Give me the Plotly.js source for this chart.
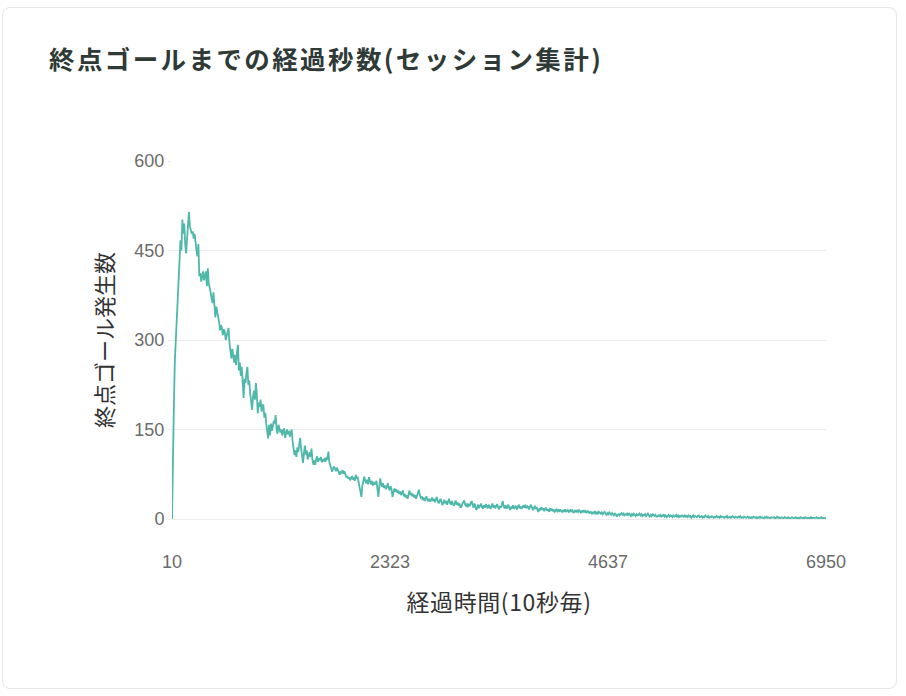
<!DOCTYPE html>
<html>
<head>
<meta charset="utf-8">
<script src="https://cdn.plot.ly/plotly-3.0.1.min.js"></script>
<style>
  html, body { margin:0; padding:0; background:#ffffff; width:906px; height:696px; overflow:hidden; }
  #card { position:absolute; left:2px; top:7px; width:895px; height:682px; border:1px solid #e6e6e6; border-radius:8px; box-sizing:border-box; }
  #chart { position:absolute; left:0; top:0; width:906px; height:696px; }
</style>
</head>
<body>
<div id="card"></div>
<div id="chart"></div>
<script>
// Elapsed time bins (seconds, every 10 s) from 10 to 6950
const startSec = 10;
const stepSec = 10;
// Count of end-goal events per 10-second bin
const goalCounts = [
  0,120,190,265,300,333,365,389,420,467,450,502,478,495,460,445,470,500,515,490,
  485,478,482,470,478,455,450,440,461,407,412,398,405,415,400,410,415,390,420,395,
  389,380,370,362,380,350,338,356,348,336,330,316,325,320,308,318,314,300,306,312,
  320,295,280,269,285,270,262,275,258,280,292,249,262,240,255,230,203,235,228,245,
  255,225,232,210,195,183,205,215,200,228,210,177,195,188,200,180,192,190,170,178,
  160,150,135,158,140,160,148,155,165,160,174,150,143,158,152,145,150,140,148,152,
  136,145,150,142,148,138,146,150,130,118,107,115,104,120,112,125,136,118,108,94,
  110,123,108,115,100,106,112,104,118,100,91,98,91,100,105,96,102,98,104,95,
  100,97,102,96,104,100,113,95,88,82,79,85,88,84,80,86,82,76,74,80,
  78,82,76,80,74,70,72,68,70,65,68,72,66,70,64,74,68,71,62,55,
  48,37,56,62,71,64,60,66,58,70,62,58,64,56,62,58,60,64,50,37,
  55,68,58,54,60,52,56,50,54,60,52,48,55,50,37,45,51,46,50,44,
  48,42,46,40,44,48,38,42,36,40,34,42,48,40,44,38,42,36,40,34,
  38,42,49,40,36,38,32,36,30,34,38,32,30,34,29,32,36,30,34,28,
  32,37,30,26,30,34,28,23,28,32,26,30,24,28,34,27,24,30,26,22,
  26,31,24,28,22,26,20,20,25,28,31,24,22,26,20,24,
  22,27,30,24,19,26,21,15,20,24,18,22,26,20,17,23,19,25,21,18,
  24,20,17,22,26,19,23,18,21,25,20,16,22,19,24,30,21,18,23,17,
  20,24,18,15,21,19,23,17,20,22,16,19,24,18,21,17,20,23,19,24,
  18,22,20,16,21,24,19,15,18,22,17,20,14,12,18,16,20,15,18,13,
  17,19,14,16,12,18,15,17,13,16,11,14,17,13,15,12,16,14,11,15,
  13,16,12,14,15,11,13,16,12,14,10,13,15,11,14,12,15,13,10,14,
  12,15,11,13,10,14,12,9,13,11,8,12,10,13,9,11,8,12,10,9,
  11,8,10,12,9,7,10,8,11,9,7,10,8,6,9,8,4,7,9,6,
  8,10,7,9,6,8,7,9,6,10,7,5,8,6,9,7,5,8,6,7,
  9,6,8,5,7,6,8,5,7,9,6,4,7,5,8,6,5,7,4,4,
  6,5,7,4,6,5,8,4,6,3,5,7,4,6,5,3,6,4,5,7,
  4,6,3,5,4,6,5,3,7,4,5,3,6,4,5,2,4,6,3,5,
  4,3,5,6,3,4,5,2,4,3,6,4,3,5,2,4,3,5,4,2,
  4,3,5,3,4,2,5,3,4,3,2,4,3,5,2,3,4,2,3,5,
  3,2,4,3,2,4,3,5,2,3,2,4,3,2,3,4,2,3,1,3,
  2,4,3,2,3,1,3,2,4,2,3,2,1,3,2,4,2,3,2,1,
  3,2,2,3,1,2,4,2,3,1,2,3,2,1,3,2,2,1,3,2,
  1,2,3,2,1,2,3,1,2,2,1,3,2,1,2,1,3,2,1,2,
  2,1,3,1,2,2,1,2,3,1,2,1,2,3,1,2,1,2,1
];
const elapsedSec = goalCounts.map((_, i) => startSec + i * stepSec);
const xTickVals = [10, 2323, 4637, 6950];
const xTickText = ['10', '2323', '4637', '6950'];
const yTickVals = [0, 150, 300, 450, 600];
const titleText = '終点ゴールまでの経過秒数(セッション集計)';
const xTitle = '経過時間(10秒毎)';
const yTitle = '終点ゴール発生数';

const trace = {
  x: elapsedSec,
  y: goalCounts,
  type: 'scatter',
  mode: 'lines',
  line: { color: '#4fb8aa', width: 1.8 },
  hoverinfo: 'x+y'
};

const tickFont = { size: 18, color: '#6b6b6b', family: '"Liberation Sans", Arial, sans-serif' };

const layout = {
  width: 906,
  height: 696,
  paper_bgcolor: 'rgba(0,0,0,0)',
  plot_bgcolor: 'rgba(0,0,0,0)',
  margin: { l: 172, r: 80, t: 161, b: 177 },
  showlegend: false,
  font: { family: '"Liberation Sans", Arial, "Noto Sans CJK JP", sans-serif', color: '#666' },
  title: {
    text: '<span style="letter-spacing:2.4px"><b>' + titleText + '</b></span>',
    xref: 'container', yref: 'container',
    x: 49/906, xanchor: 'left',
    y: 1 - 60/696, yanchor: 'middle',
    font: { family: '"Noto Sans CJK JP", sans-serif', size: 25.5, color: '#2f3a37' }
  },
  xaxis: {
    range: [10, 6950],
    tickmode: 'array',
    tickvals: xTickVals,
    ticktext: xTickText,
    showgrid: false,
    zeroline: false,
    showline: false,
    ticks: '',
    ticklabelstandoff: 30,
    tickfont: tickFont,
    title: {
      text: '<span style="letter-spacing:0.6px">' + xTitle + '</span>',
      standoff: 23,
      font: { family: '"Noto Sans CJK JP", sans-serif', size: 23, color: '#333' }
    }
  },
  yaxis: {
    range: [0, 600],
    tickmode: 'array',
    tickvals: yTickVals,
    showgrid: true,
    gridcolor: '#ececec',
    gridwidth: 1,
    zeroline: true,
    zerolinecolor: '#ececec',
    zerolinewidth: 1,
    showline: false,
    ticks: 'outside',
    ticklen: 3,
    tickcolor: '#ececec',
    tickfont: tickFont,
    title: {
      text: yTitle,
      standoff: 14,
      font: { family: '"Noto Sans CJK JP", sans-serif', size: 22, color: '#333' }
    }
  }
};

Plotly.newPlot('chart', [trace], layout, { displayModeBar: false, staticPlot: false });
</script>
</body>
</html>
